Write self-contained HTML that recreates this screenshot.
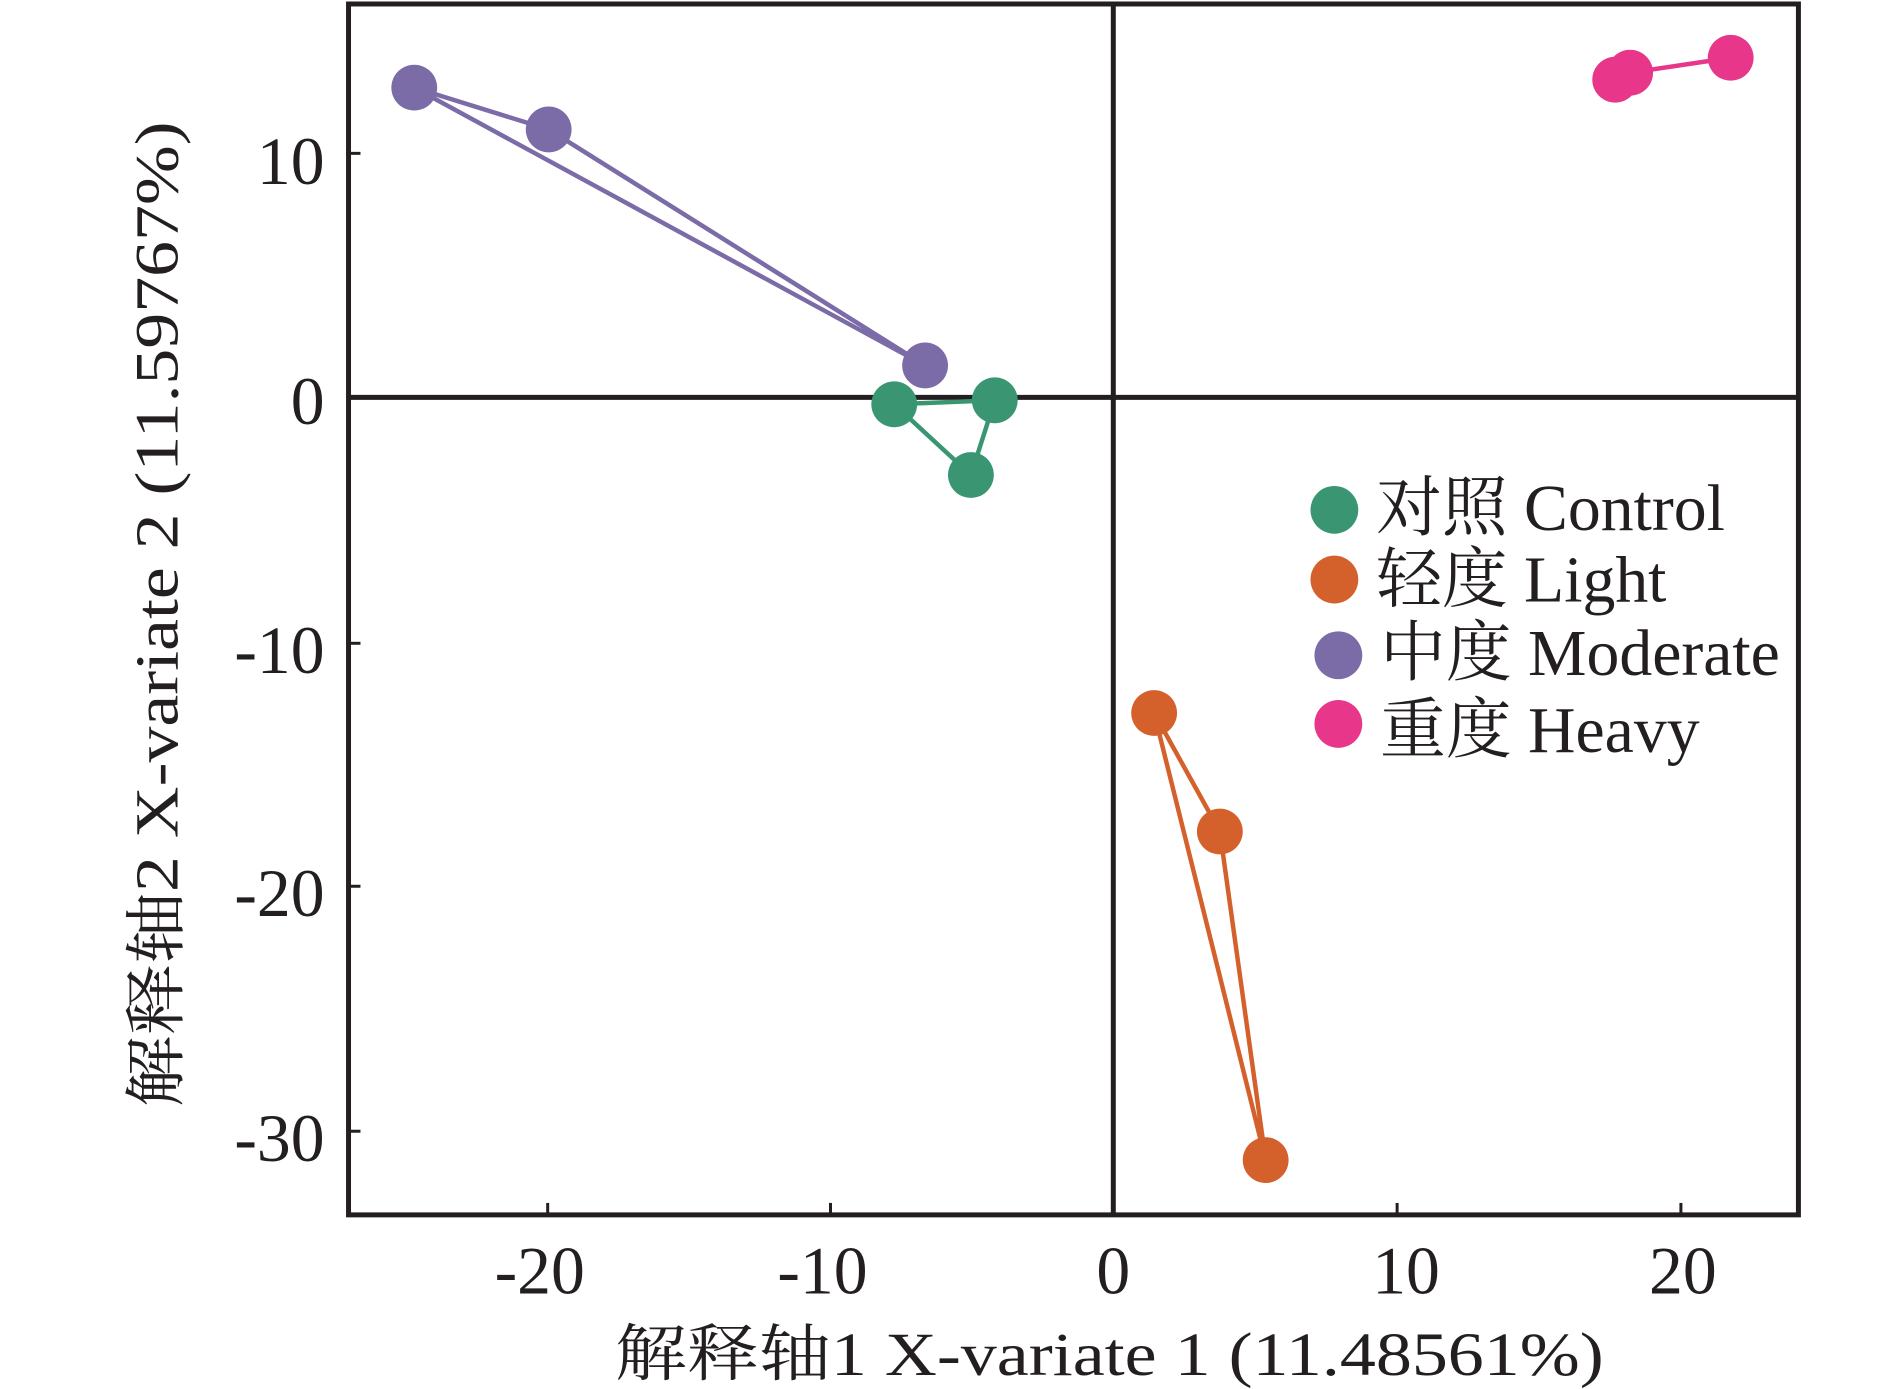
<!DOCTYPE html>
<html><head><meta charset="utf-8"><style>
html,body{margin:0;padding:0;background:#fff;}
svg{display:block;}
text{font-family:"Liberation Serif","Noto Serif CJK SC",serif;fill:#231f20;}
</style></head><body>
<svg width="1890" height="1389" viewBox="0 0 1890 1389" xmlns="http://www.w3.org/2000/svg">
<g transform="scale(0.9958)">
<rect x="350" y="4" width="1456" height="1216" fill="none" stroke="#231f20" stroke-width="5"/>
<line x1="1118" y1="4" x2="1118" y2="1220" stroke="#231f20" stroke-width="5"/>
<line x1="350" y1="399" x2="1806" y2="399" stroke="#231f20" stroke-width="5"/>
<g stroke="#231f20" stroke-width="3">
<line x1="550" y1="1220" x2="550" y2="1208"/><line x1="834" y1="1220" x2="834" y2="1208"/>
<line x1="1403" y1="1220" x2="1403" y2="1208"/><line x1="1688" y1="1220" x2="1688" y2="1208"/>
<line x1="350" y1="154" x2="362" y2="154"/><line x1="350" y1="646" x2="362" y2="646"/>
<line x1="350" y1="890" x2="362" y2="890"/><line x1="350" y1="1136" x2="362" y2="1136"/>
</g>
<g font-size="68" text-anchor="end">
<text x="326" y="185">10</text><text x="326" y="426">0</text>
<text x="326" y="676">-10</text><text x="326" y="920">-20</text><text x="326" y="1166">-30</text>
</g>
<g font-size="68" text-anchor="middle">
<text x="542" y="1299">-20</text><text x="826" y="1299">-10</text><text x="1118" y="1299">0</text>
<text x="1412" y="1299">10</text><text x="1690" y="1299">20</text>
</g>
<text x="1114" y="1381" font-size="62" text-anchor="middle" textLength="993" lengthAdjust="spacingAndGlyphs">解释轴1 X-variate 1 (11.48561%)</text>
<text transform="translate(178,617) rotate(-90)" font-size="62" text-anchor="middle" textLength="990" lengthAdjust="spacingAndGlyphs">解释轴2 X-variate 2 (11.59767%)</text>
<g fill="none" stroke-width="4.5">
<polygon points="416,88 551,130 929,367" stroke="#7b6ca8"/>
<polygon points="898,406 999,402 975,477" stroke="#3a9672"/>
<polygon points="1159,716 1225,835 1271,1165" stroke="#d4602c"/>
<polyline points="1622,80 1637,73 1738,58" stroke="#e8378a"/>
</g>
<g fill="#7b6ca8"><circle cx="416" cy="88" r="23"/><circle cx="551" cy="130" r="23"/><circle cx="929" cy="367" r="23"/></g>
<g fill="#3a9672"><circle cx="898" cy="406" r="23"/><circle cx="999" cy="402" r="23"/><circle cx="975" cy="477" r="23"/></g>
<g fill="#d4602c"><circle cx="1159" cy="716" r="23"/><circle cx="1225" cy="835" r="23"/><circle cx="1271" cy="1165" r="23"/></g>
<g fill="#e8378a"><circle cx="1622" cy="80" r="23"/><circle cx="1637" cy="73" r="23"/><circle cx="1738" cy="58" r="23"/></g>
<circle cx="1340" cy="512" r="24" fill="#3a9672"/>
<circle cx="1340" cy="582" r="24" fill="#d4602c"/>
<circle cx="1344" cy="658" r="24" fill="#7b6ca8"/>
<circle cx="1344" cy="727" r="24" fill="#e8378a"/>
<g font-size="66">
<text x="1382" y="532">对照 Control</text>
<text x="1382" y="604">轻度 Light</text>
<text x="1386" y="678">中度 Moderate</text>
<text x="1386" y="755">重度 Heavy</text>
</g>
</g>
</svg>
</body></html>
